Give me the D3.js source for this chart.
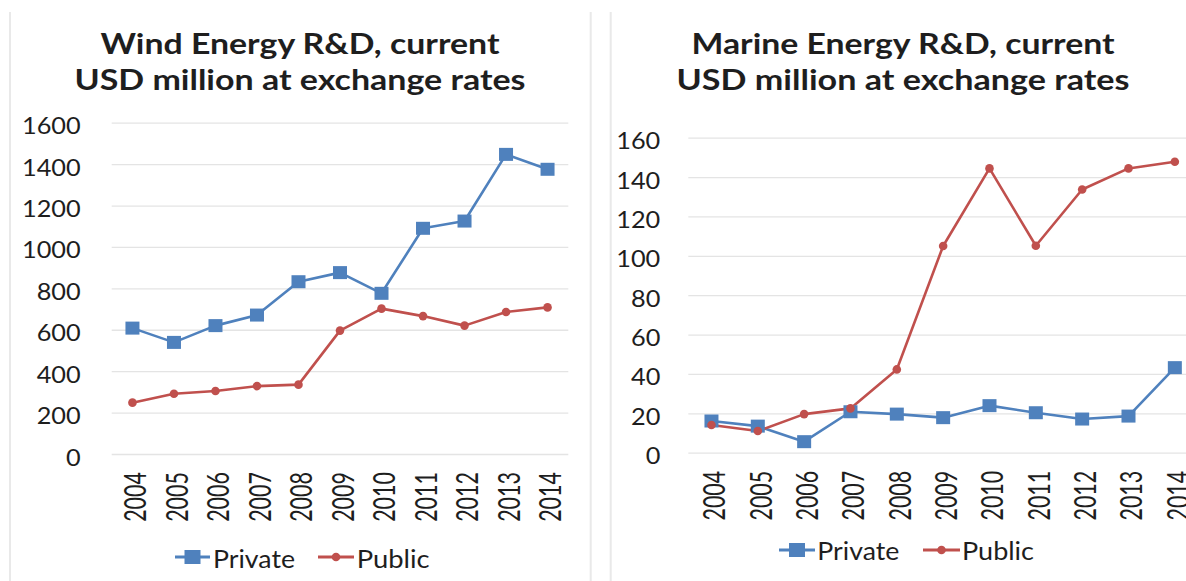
<!DOCTYPE html>
<html><head><meta charset="utf-8">
<script src="https://cdn.jsdelivr.net/npm/d3@7/dist/d3.min.js"></script>
<style>
body{margin:0;background:#fff}
svg{display:block}
text{font-family:Lato,"Open Sans",sans-serif;fill:#1e1e1e}
</style></head>
<body><svg id="c" width="1186" height="581"></svg>
<script>
// ---- data ----
const years = ["2004","2005","2006","2007","2008","2009","2010","2011","2012","2013","2014"];
const windPrivate = [608,539,620,671,832,876,776,1090,1125,1447,1375];
const windPublic  = [248,291,304,328,335,596,702,666,620,686,708];
const marinePrivate = [16.1,13.5,5.6,20.8,19.6,17.8,23.9,20.3,17.1,18.6,43.2];
const marinePublic  = [14.1,11.0,19.6,22.5,42.3,105,144.4,105.1,133.7,144.4,147.8];
const windTicks = [0,200,400,600,800,1000,1200,1400,1600];
const marineTicks = [0,20,40,60,80,100,120,140,160];
const seriesNames = ["Private","Public"];
const windTitle = ["Wind Energy R&D, current","USD million at exchange rates"];
const marineTitle = ["Marine Energy R&D, current","USD million at exchange rates"];

const colors = {"Private":"#4f81bd","Public":"#c0504d"};
const svg = d3.select("#c");

// frames
[10, 590.7, 610.7].forEach(x=>{
  svg.append("line").attr("x1",x).attr("x2",x).attr("y1",12).attr("y2",581)
    .attr("stroke","#e9e9e9").attr("stroke-width",2);
});

function stretch(sel, f){
  sel.each(function(){
    const w=this.getComputedTextLength();
    d3.select(this).attr("textLength",w*f).attr("lengthAdjust","spacingAndGlyphs");
  });
}
function fitW(sel, w){
  sel.attr("textLength",w).attr("lengthAdjust","spacingAndGlyphs");
}

function panel(cfg){
  const x = d3.scaleBand().domain(years).range([cfg.x0,cfg.x1]).padding(0);
  const y = d3.scaleLinear().domain([0,cfg.max]).range([cfg.yb,cfg.yt]);
  const cx = d => x(d)+x.bandwidth()/2;

  // title
  cfg.title.forEach((t,i)=>{
    const tx = svg.append("text").attr("x",cfg.titleCx).attr("y",54+i*36)
      .attr("text-anchor","middle").attr("font-size",29).attr("font-weight",700).text(t);
    fitW(tx, cfg.titleW[i]);
  });

  // y axis with gridlines
  const ya = svg.append("g").attr("transform",`translate(${cfg.x0},0)`)
    .call(d3.axisLeft(y).tickValues(cfg.ticks).tickSize(-(1186-cfg.x0)).tickPadding(cfg.gap).tickFormat(d3.format("d")));
  ya.select(".domain").remove();
  ya.selectAll(".tick line").attr("stroke","#e4e4e4").attr("stroke-width",1.3)
    .attr("x2", cfg.x1-cfg.x0);
  ya.selectAll(".tick text").attr("font-size",23).attr("dy",null).attr("y",11)
    .attr("fill","#1e1e1e").style("font-family","Lato,sans-serif");
  stretch(ya.selectAll(".tick text"),1.1);

  // x axis labels
  const xa = svg.append("g").attr("transform",`translate(0,${cfg.yb})`)
    .call(d3.axisBottom(x).tickSize(0));
  xa.select(".domain").remove();
  xa.selectAll(".tick text")
    .attr("y",null).attr("dy",null)
    .attr("transform","translate(3,18) scale(1.4,1) rotate(-90)")
    .attr("dy","0.36em").attr("text-anchor","end")
    .attr("font-size",21.5).attr("fill","#1e1e1e").style("font-family","Lato,sans-serif");

  const line = d3.line().x((d,i)=>cx(years[i])).y(d=>y(d));
  // series
  const series = [{name:"Private",vals:cfg.priv},{name:"Public",vals:cfg.pub}];
  series.forEach(s=>{
    svg.append("path").datum(s.vals).attr("d",line).attr("fill","none")
      .attr("stroke",colors[s.name]).attr("stroke-width",2.6).attr("stroke-linejoin","round");
  });
  // markers: private squares
  svg.append("g").selectAll("rect").data(cfg.priv).join("rect")
    .attr("x",(d,i)=>cx(years[i])-7).attr("y",d=>y(d)-6.5)
    .attr("width",14).attr("height",13).attr("fill",colors.Private);
  svg.append("g").selectAll("circle").data(cfg.pub).join("circle")
    .attr("cx",(d,i)=>cx(years[i])).attr("cy",d=>y(d)).attr("r",4.3).attr("fill",colors.Public);

  // legend
  const L = cfg.legend;
  seriesNames.forEach((n,i)=>{
    const it = L.items[i];
    svg.append("line").attr("x1",it.l0).attr("x2",it.l1).attr("y1",L.y).attr("y2",L.y)
      .attr("stroke",colors[n]).attr("stroke-width",3);
    const mc=(it.l0+it.l1)/2;
    if(n==="Private"){
      svg.append("rect").attr("x",mc-8).attr("y",L.y-7).attr("width",16).attr("height",14).attr("fill",colors[n]);
    } else {
      svg.append("circle").attr("cx",mc).attr("cy",L.y).attr("r",4.3).attr("fill",colors[n]);
    }
    const t = svg.append("text").attr("x",it.tx).attr("y",L.base).attr("font-size",25.5).text(n);
    fitW(t, it.tw);
  });
}

panel({x0:111.7,x1:568.3,yb:454,yt:122.7,max:1600,ticks:windTicks,gap:31,
  priv:windPrivate,pub:windPublic,title:windTitle,titleCx:300,titleW:[399,451],
  legend:{y:557,base:567.7,items:[{l0:175,l1:210,tx:213,tw:82},{l0:318,l1:354,tx:356.7,tw:73}]}});
panel({x0:688.3,x1:1198,yb:452.7,yt:137.7,max:160,ticks:marineTicks,gap:28,
  priv:marinePrivate,pub:marinePublic,title:marineTitle,titleCx:903,titleW:[423,453],
  legend:{y:550,base:560,items:[{l0:779,l1:815,tx:817.3,tw:82},{l0:923,l1:960,tx:962,tw:72}]}});
</script></body></html>
